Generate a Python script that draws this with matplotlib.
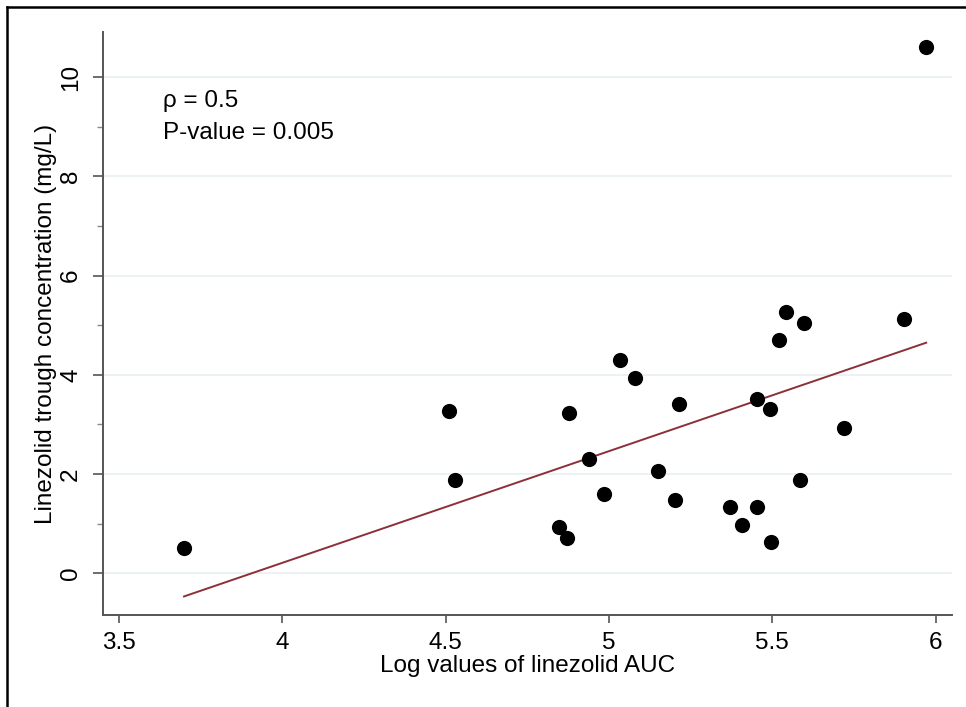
import numpy as np
import matplotlib
matplotlib.use('Agg')
import matplotlib.pyplot as plt
from matplotlib.lines import Line2D

# log AUC vs trough concentration
log_auc = [3.699, 4.510, 4.529, 4.847, 4.872, 4.878, 4.939, 4.985, 5.034,
           5.080, 5.150, 5.202, 5.215, 5.371, 5.408, 5.453, 5.453, 5.493,
           5.496, 5.521, 5.542, 5.585, 5.597, 5.720, 5.904, 5.971]
trough = [0.51, 3.27, 1.88, 0.93, 0.71, 3.23, 2.31, 1.60, 4.30,
          3.94, 2.06, 1.48, 3.41, 1.34, 0.97, 1.34, 3.52, 3.31,
          0.63, 4.70, 5.27, 1.88, 5.05, 2.93, 5.12, 10.61]

x_ticks = [3.5, 4, 4.5, 5, 5.5, 6]
x_tick_labels = ['3.5', '4', '4.5', '5', '5.5', '6']
y_ticks = [0, 2, 4, 6, 8, 10]
y_minor = [1, 3, 5, 7, 9]

plt.rcParams.update({
    'font.family': ['Liberation Sans', 'DejaVu Sans'],
    'font.size': 17.5,
})

fig = plt.figure(figsize=(9.66, 7.07), dpi=100)
ax = fig.add_axes([103 / 966, 1 - 615 / 707, 849 / 966, 583 / 707])

x = np.array(log_auc)
y = np.array(trough)

# linear fit
slope, intercept = np.polyfit(x, y, 1)
xf = np.array([x.min(), x.max()])
ax.plot(xf, intercept + slope * xf, color='#8c2f39', linewidth=1.4, zorder=2)

ax.scatter(x, y, s=120, color='black', zorder=3, linewidths=0)

for yt in y_ticks:
    ax.axhline(yt, color='#eaf1f3', linewidth=1.3, zorder=0)

ax.set_xlim(3.451, 6.05)
ax.set_ylim(-0.84, 10.91)

ax.set_xticks(x_ticks)
ax.set_xticklabels(x_tick_labels)
ax.set_yticks(y_ticks)
ax.set_yticklabels([str(v) for v in y_ticks], rotation=90, va='center')
ax.set_yticks(y_minor, minor=True)

ax.tick_params(axis='x', length=6, width=1.2, color='#555555', pad=6)
ax.tick_params(axis='y', which='major', length=7, width=1.2, color='#555555', pad=8)
ax.tick_params(axis='y', which='minor', length=4, width=1.0, color='#888888')
ax.tick_params(axis='x', which='minor', length=0)

for side in ['top', 'right']:
    ax.spines[side].set_visible(False)
for side in ['left', 'bottom']:
    ax.spines[side].set_color('#555555')
    ax.spines[side].set_linewidth(1.4)

ax.set_xlabel('Log values of linezolid AUC', labelpad=1)
ax.set_ylabel('Linezolid trough concentration (mg/L)', labelpad=2)

ax.text(3.635, 9.52, 'ρ = 0.5', va='center', fontsize=17.5)
ax.text(3.635, 8.88, 'P-value = 0.005', va='center', fontsize=17.5)

# outer frame (left and top edges only)
fig.add_artist(Line2D([6.5 / 966, 6.5 / 966], [0, 1 - 6.5 / 707],
                      color='black', linewidth=1.8))
fig.add_artist(Line2D([6.5 / 966, 1], [1 - 6.5 / 707, 1 - 6.5 / 707],
                      color='black', linewidth=1.8))

fig.savefig('out.png', dpi=100)
